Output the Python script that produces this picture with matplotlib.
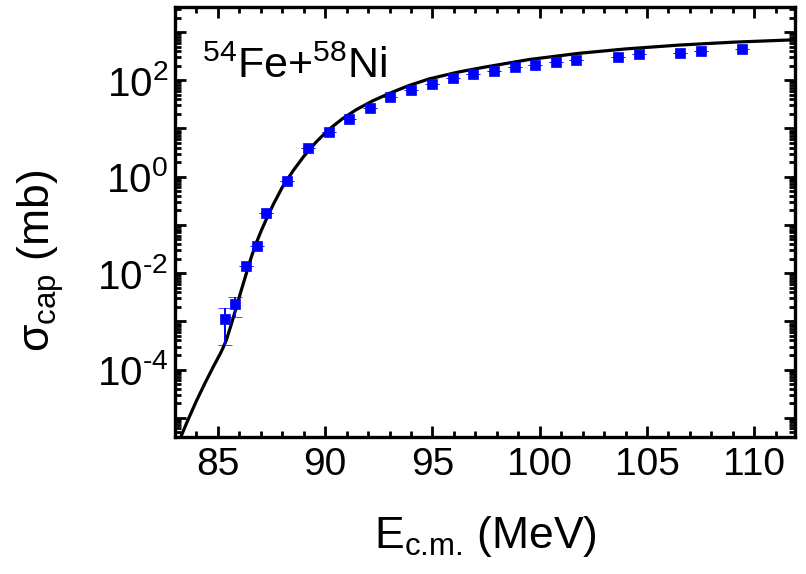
import numpy as np
import matplotlib
matplotlib.use("Agg")
import matplotlib.pyplot as plt
from matplotlib.ticker import MultipleLocator, LogLocator, FixedLocator, NullFormatter

plt.rcParams.update({
    "font.family": ["Liberation Sans", "DejaVu Sans"],
    "mathtext.fontset": "custom",
    "mathtext.rm": "Liberation Sans",
    "mathtext.it": "Liberation Sans:italic",
    "mathtext.bf": "Liberation Sans:bold",
    "mathtext.default": "regular",
})

# Measured capture cross sections, 54Fe + 58Ni
e_cm = [85.33, 85.82, 86.29, 86.80, 87.26, 88.22, 89.20, 90.19, 91.10, 92.07,
        93.00, 94.00, 94.97, 95.95, 96.90, 97.88, 98.85, 99.79, 100.75, 101.71,
        103.65, 104.63, 106.53, 107.50, 109.43]
sigma_exp = [1.1e-3, 2.3e-3, 1.4e-2, 3.6e-2, 0.18, 0.80, 3.9, 8.6, 15.9, 27.0,
             45.0, 64.0, 83.0, 114.0, 133.0, 155.0, 188.0, 210.0, 240.0, 267.0,
             310.0, 344.0, 372.0, 400.0, 435.0]
err_lo = [7.8e-4, 1.1e-3, 0, 0, 0, 0, 0, 0, 0, 0,
          0, 0, 0, 0, 0, 0, 0, 0, 0, 0,
          0, 0, 0, 0, 0]
err_hi = [8.0e-4, 0.9e-3, 0, 0, 0, 0, 0, 0, 0, 0,
          0, 0, 0, 0, 0, 0, 0, 0, 0, 0,
          0, 0, 0, 0, 0]

# Calculated capture cross section
e_theory = [83.25, 83.60, 84.00, 84.40, 84.80, 85.10, 85.25, 85.40, 85.64, 85.87,
            86.10, 86.33, 86.57, 86.80, 87.03, 87.26, 87.60, 88.00, 88.50, 89.00,
            89.60, 90.20, 90.80, 91.45, 92.20, 93.00, 93.90, 94.86, 96.20, 97.40,
            99.50, 101.84, 104.00, 106.50, 109.00, 111.90]
log_sigma_theory = [-5.42, -5.05, -4.65, -4.28, -3.93, -3.68, -3.54, -3.38, -3.04, -2.69,
                    -2.34, -2.00, -1.65, -1.36, -1.11, -0.88, -0.56, -0.22, 0.12, 0.42,
                    0.73, 0.99, 1.20, 1.39, 1.57, 1.73, 1.89, 2.03, 2.17, 2.27,
                    2.43, 2.56, 2.65, 2.73, 2.79, 2.84]

x_major = [85, 90, 95, 100, 105, 110]
y_label_exps = [-4, -2, 0, 2]

fig = plt.figure(figsize=(8.06, 5.74), dpi=100)
ax = fig.add_axes([175 / 806, 1 - 437 / 574, 620 / 806, 430 / 574])

ax.plot(e_theory, 10.0 ** np.array(log_sigma_theory), color="black", lw=2.3, zorder=2)
ax.errorbar(e_cm, sigma_exp, yerr=[err_lo, err_hi], fmt="s", color="#0000ff",
            ms=7, mec="#0000ff", mew=0.5, ecolor="#0000ff", elinewidth=1.4,
            capsize=5, capthick=1.4, zorder=3)

ax.set_yscale("log")
ax.set_xlim(83.0, 111.9)
ax.set_ylim(10 ** -5.40, 10 ** 3.52)

ax.xaxis.set_major_locator(FixedLocator(x_major))
ax.xaxis.set_minor_locator(MultipleLocator(1))
ax.yaxis.set_major_locator(LogLocator(base=10, numticks=20))
ax.yaxis.set_minor_locator(LogLocator(base=10, subs=np.arange(2, 10), numticks=20))
ax.yaxis.set_minor_formatter(NullFormatter())


def ylab(v, pos):
    e = int(round(np.log10(v)))
    if e not in y_label_exps:
        return ""
    if e < 0:
        return r"$10^{\text{-}%d}$" % (-e)
    return r"$10^{%d}$" % e


ax.yaxis.set_major_formatter(plt.FuncFormatter(ylab))

for side in ax.spines.values():
    side.set_linewidth(2.4)
ax.tick_params(which="both", direction="in", top=True, right=True, width=2.0)
ax.tick_params(which="major", length=8)
ax.tick_params(which="minor", length=4)
ax.tick_params(axis="x", which="major", pad=7, labelsize=28)
ax.tick_params(axis="y", which="major", pad=5, labelsize=29)

ax.set_xlabel(r"E$_{\text{c.m.}}$ (MeV)", fontsize=32)
ax.xaxis.set_label_coords(0.5, -0.18)
ax.set_ylabel(r"$\sigma_{cap}$ (mb)", fontsize=32)
ax.yaxis.set_label_coords(-0.175, 0.41)

ax.text(0.043, 0.835, r"$^{54}$Fe+$^{58}$Ni", transform=ax.transAxes,
        fontsize=31, ha="left", va="baseline")

fig.savefig("out.png", dpi=100)
